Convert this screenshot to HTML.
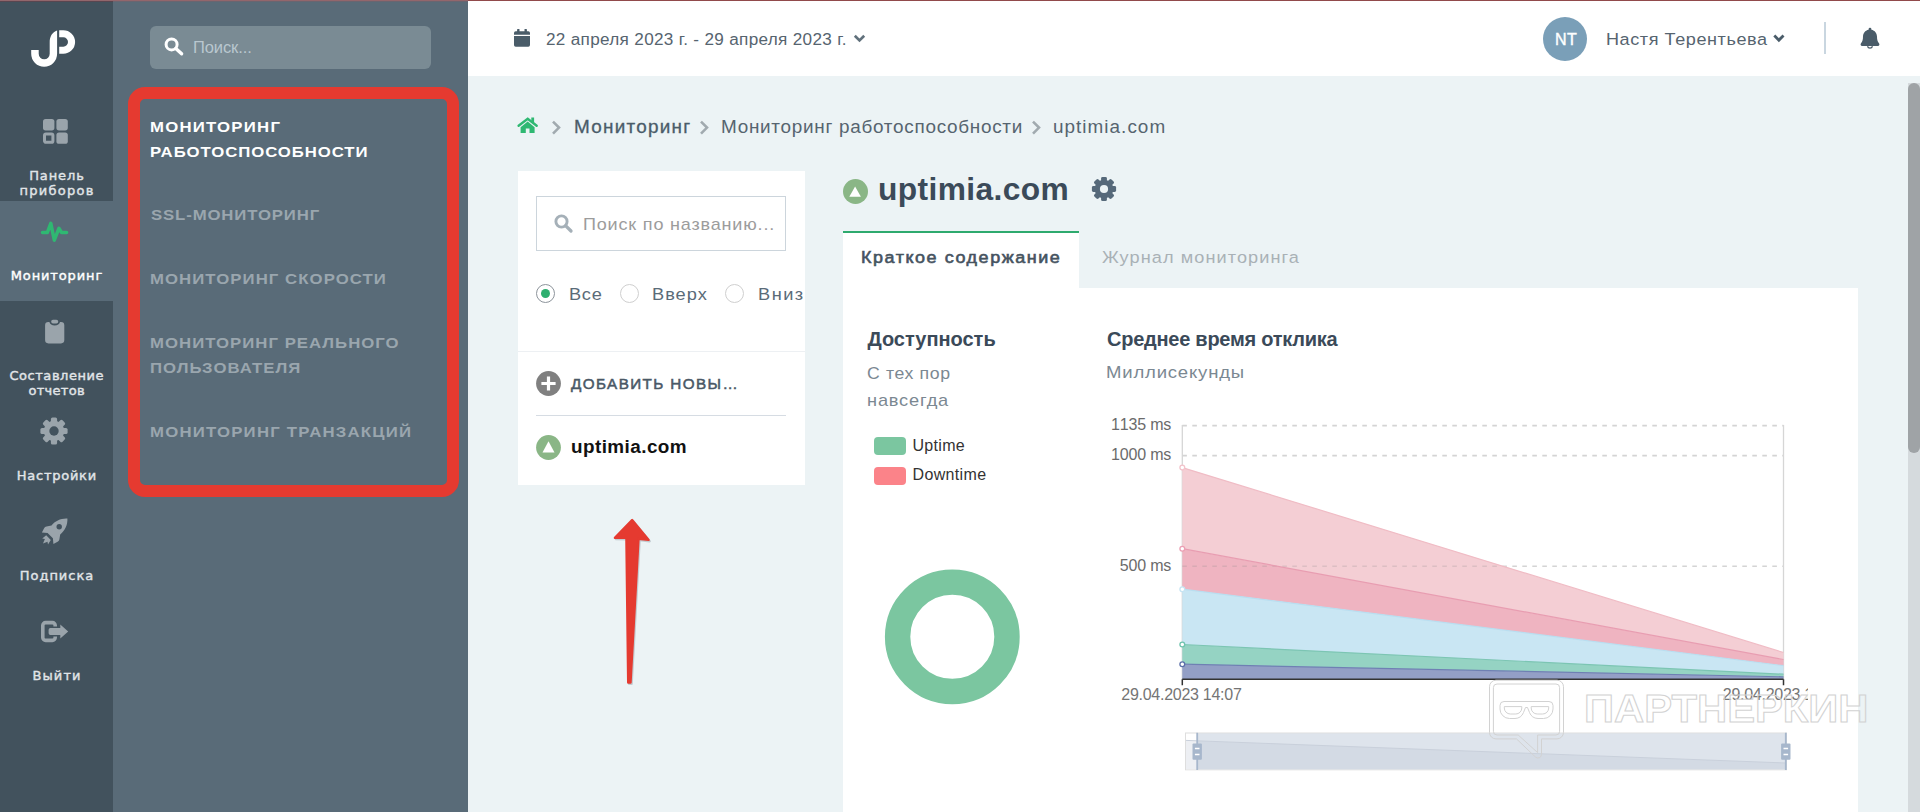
<!DOCTYPE html>
<html lang="ru">
<head>
<meta charset="utf-8">
<title>Uptimia — Мониторинг работоспособности</title>
<style>
*{box-sizing:border-box;margin:0;padding:0}
html,body{width:1920px;height:812px;overflow:hidden}
body{position:relative;background:#ecf3f5;font-family:"Liberation Sans",sans-serif;color:#56646f}
.abs{position:absolute}
.t{position:absolute;white-space:nowrap;line-height:1}
svg{position:absolute;overflow:visible}

/* ---------- primary nav ---------- */
#nav1{position:absolute;left:0;top:0;width:113px;height:812px;background:#42525d}
#nav1 .item{position:absolute;left:0;width:113px;height:100px}
#nav1 .item.active{background:#596b78}
#nav1 .lbl{position:absolute;left:0;width:113px;text-align:center;font-family:"DejaVu Sans","Liberation Sans",sans-serif;font-size:13px;line-height:13px;color:#e1e5e8;white-space:nowrap;-webkit-text-stroke:.4px currentColor}
#nav1 .item.active .lbl{color:#fff}

/* ---------- secondary nav ---------- */
#nav2{position:absolute;left:113px;top:0;width:355px;height:812px;background:#596b78}
#nav2 .search{position:absolute;left:37px;top:26px;width:281px;height:43px;border-radius:6px;background:#7a8b94}
#nav2 .menu{position:absolute;left:37px;font-size:15.5px;line-height:25px;font-weight:700;letter-spacing:.95px;color:#9aa6ae;white-space:nowrap;transform:scaleX(1.08);transform-origin:0 50%}
#nav2 .menu.on{color:#fff}
#redbox{position:absolute;left:128.3px;top:87.4px;width:330.8px;height:409.5px;border:12.8px solid #e53a30;border-radius:17px}

/* ---------- top bar ---------- */
#topbar{position:absolute;left:468px;top:0;width:1452px;height:76px;background:#fff}
#topline{position:absolute;left:0;top:0;width:1920px;height:1px;background:linear-gradient(90deg,#93666c 0,#93666c 468px,#914a4b 468px);z-index:9}
#topline2{position:absolute;left:0;top:1px;width:468px;height:1px;background:linear-gradient(90deg,#594650 0,#594650 113px,#6a6570 113px);z-index:9}

/* ---------- main ---------- */
.card{position:absolute;background:#fff}
</style>
</head>
<body>
<div id="topline"></div><div id="topline2"></div>

<!-- ================= PRIMARY NAV ================= -->
<div id="nav1">
  <!-- logo -->
  <svg style="left:28px;top:28px" width="50" height="42" viewBox="28 28 50 42">
    <path d="M31.2 49.9 H38.7 V53.8 A5.5 5.5 0 0 0 49.7 53.8 V42.4 C49.7 36.5 52.3 32.3 57.1 30.6 V53.8 A12.95 12.95 0 0 1 31.2 53.8 Z" fill="#fff"/>
    <path d="M59.2 30.2 H63.3 A11.8 11.8 0 0 1 63.3 53.8 H59.2 V46.7 H63.3 A4.7 4.7 0 0 0 63.3 37.3 H59.2 Z" fill="#fff"/>
  </svg>

  <div class="item" style="top:100px">
    <svg style="left:43px;top:19px" width="25" height="25" viewBox="0 0 25 25">
      <rect x="0" y="0" width="11.4" height="11.4" rx="2.6" fill="#9aa4ab"/>
      <rect x="13.4" y="0" width="11.4" height="11.4" rx="2.6" fill="#9aa4ab"/>
      <rect x="13.4" y="13.4" width="11.4" height="11.4" rx="2.6" fill="#9aa4ab"/>
      <rect x="1.5" y="14.9" width="8.4" height="8.4" rx="1.4" fill="none" stroke="#9aa4ab" stroke-width="3"/>
    </svg>
    <div class="lbl" style="top:69px;letter-spacing:0.9px;padding-left:0.9px">Панель</div><div class="lbl" style="top:84.2px;letter-spacing:1.26px;padding-left:1.26px">приборов</div>
  </div>

  <div class="item active" style="top:200.7px;height:100.4px">
    <svg style="left:39px;top:17.3px" width="32" height="28" viewBox="39 218 32 28">
      <path d="M42.5 232.6 H47.3 L50.8 223.4 L54.3 240.2 L58.9 228.3 L61.6 232.6 H66.6" fill="none" stroke="#2fb872" stroke-width="3.5" stroke-linecap="round" stroke-linejoin="round"/>
    </svg>
    <div class="lbl" style="top:68.3px;letter-spacing:0.87px;padding-left:0.87px">Мониторинг</div>
  </div>

  <div class="item" style="top:300px">
    <svg style="left:44px;top:18px" width="22" height="26" viewBox="44 318 22 26">
      <path d="M48.4 322 H49.4 A5.4 4.2 0 0 0 60 322 H61 A3.3 3.3 0 0 1 64.3 325.3 V340.1 A3.3 3.3 0 0 1 61 343.4 H48.4 A3.3 3.3 0 0 1 45.1 340.1 V325.3 A3.3 3.3 0 0 1 48.4 322 Z" fill="#9aa4ab"/>
      <rect x="51.2" y="319.8" width="7" height="3.8" rx="1.8" fill="#9aa4ab"/>
    </svg>
    <div class="lbl" style="top:69px;letter-spacing:0.56px;padding-left:0.56px">Составление</div><div class="lbl" style="top:84.2px;letter-spacing:0.3px;padding-left:0.3px">отчетов</div>
  </div>

  <div class="item" style="top:400px">
    <svg style="left:40px;top:17px" width="28" height="28" viewBox="-14 -14 28 28">
      <g fill="#9aa4ab">
        <circle r="10.2"/>
        <g id="tth"><rect x="-3.1" y="-13.6" width="6.2" height="6" rx="1.6"/></g>
        <use href="#tth" transform="rotate(45)"/><use href="#tth" transform="rotate(90)"/><use href="#tth" transform="rotate(135)"/>
        <use href="#tth" transform="rotate(180)"/><use href="#tth" transform="rotate(225)"/><use href="#tth" transform="rotate(270)"/><use href="#tth" transform="rotate(315)"/>
      </g>
      <circle r="4.7" fill="#42525d"/>
    </svg>
    <div class="lbl" style="top:69px;letter-spacing:0.73px;padding-left:0.73px">Настройки</div>
  </div>

  <div class="item" style="top:500px">
    <svg style="left:41px;top:18px" width="27" height="27" viewBox="41 518 27 27">
      <path d="M67.4 518.6 C61 518.2 55 521 51.5 525.6 L46.5 526.4 C45.4 526.6 44.6 527.2 44.1 528.2 L41.9 532.4 L47.6 533 L52.9 538.3 L53.4 543.9 L57.6 541.7 C58.6 541.2 59.2 540.3 59.4 539.3 L60.2 534.4 C64.8 530.9 67.8 525 67.4 518.6 Z" fill="#9aa4ab"/>
      <circle cx="59.2" cy="526.7" r="2.7" fill="#42525d"/>
      <path d="M46.2 535.2 L42.2 538.6 L44.9 539.1 L43 543.6 L47.5 541.7 L48 544.4 L50.8 540 Z" fill="#9aa4ab"/>
    </svg>
    <div class="lbl" style="top:69px;letter-spacing:0.98px;padding-left:0.98px">Подписка</div>
  </div>

  <div class="item" style="top:600px">
    <svg style="left:40px;top:19px" width="30" height="25" viewBox="40 619 30 25">
      <path d="M55.2 626.5 V625.4 A2.8 2.8 0 0 0 52.4 622.6 H45.6 A2.8 2.8 0 0 0 42.8 625.4 V637.6 A2.8 2.8 0 0 0 45.6 640.4 H52.4 A2.8 2.8 0 0 0 55.2 637.6 V636.4" fill="none" stroke="#9aa4ab" stroke-width="3.6"/>
      <path d="M50.3 628 H60.3 V624.4 L68.2 631.5 L60.3 638.4 V635 H50.3 A2 2 0 0 1 48.6 633.2 V629.8 A2 2 0 0 1 50.3 628 Z" fill="#9aa4ab"/>
    </svg>
    <div class="lbl" style="top:69px;letter-spacing:1.09px;padding-left:1.09px">Выйти</div>
  </div>
</div>

<!-- ================= SECONDARY NAV ================= -->
<div id="nav2">
  <div class="search">
    <svg style="left:14.4px;top:10.7px" width="20" height="19" viewBox="0 0 20 19">
      <circle cx="7.6" cy="7.4" r="5.5" fill="none" stroke="#fff" stroke-width="3"/>
      <path d="M11.8 11.4 L17.6 16.8" stroke="#fff" stroke-width="3.4" stroke-linecap="round"/>
    </svg>
    <div class="t" style="left:43px;top:12.5px;font-size:16.5px;color:#b9c7cf;letter-spacing:-.1px">Поиск...</div>
  </div>
  <div class="menu on" style="top:114.2px"><span style="letter-spacing:1.15px">МОНИТОРИНГ</span><br><span style="letter-spacing:.86px">РАБОТОСПОСОБНОСТИ</span></div>
  <div class="menu" style="top:202.4px;left:37.6px;letter-spacing:.81px">SSL-МОНИТОРИНГ</div>
  <div class="menu" style="top:265.8px;letter-spacing:.99px">МОНИТОРИНГ СКОРОСТИ</div>
  <div class="menu" style="top:330.2px">МОНИТОРИНГ РЕАЛЬНОГО<br>ПОЛЬЗОВАТЕЛЯ</div>
  <div class="menu" style="top:418.9px;letter-spacing:1.13px">МОНИТОРИНГ ТРАНЗАКЦИЙ</div>
</div>
<div id="redbox"></div>

<!-- ================= TOP BAR ================= -->
<div id="topbar">
  <!-- calendar -->
  <svg style="left:46px;top:29px" width="16" height="18" viewBox="0 0 16 18">
    <path d="M0 6.9 H16 V16.1 A1.7 1.7 0 0 1 14.3 17.8 H1.7 A1.7 1.7 0 0 1 0 16.1 Z" fill="#4a5c69"/>
    <path d="M1.7 2.2 H14.3 A1.7 1.7 0 0 1 16 3.9 V5.8 H0 V3.9 A1.7 1.7 0 0 1 1.7 2.2 Z" fill="#4a5c69"/>
    <rect x="3.1" y="0" width="2.4" height="4" rx=".6" fill="#4a5c69"/>
    <rect x="10.5" y="0" width="2.4" height="4" rx=".6" fill="#4a5c69"/>
  </svg>
  <div class="t" id="date" style="left:77.7px;top:31.9px;font-size:16px;color:#56646f;letter-spacing:0.30px;transform:scaleX(1.07);transform-origin:0 50%">22 апреля 2023 г. - 29 апреля 2023 г.</div>
  <svg style="left:385px;top:34px" width="13" height="9" viewBox="0 0 13 9"><path d="M1.8 1.8 L6.5 6.4 L11.2 1.8" fill="none" stroke="#61717c" stroke-width="2.7" stroke-linecap="butt" stroke-linejoin="miter"/></svg>

  <!-- avatar -->
  <div class="abs" style="left:1075px;top:17px;width:44px;height:44px;border-radius:50%;background:#7a9fb8"></div>
  <div class="t" id="nt" style="left:1076px;top:31.6px;width:44px;text-align:center;font-size:16px;color:#fff;font-weight:400;letter-spacing:.3px;-webkit-text-stroke:.4px #fff">NT</div>
  <div class="t" id="uname" style="left:1138.3px;top:31.0px;font-size:17.2px;color:#56646f;letter-spacing:0.55px;transform:scaleX(1.05);transform-origin:0 50%">Настя Терентьева</div>
  <svg style="left:1305px;top:33.6px" width="12" height="9" viewBox="0 0 12 9"><path d="M1.3 1.6 L5.9 6.2 L10.5 1.6" fill="none" stroke="#4a5c69" stroke-width="2.8"/></svg>
  <div class="abs" style="left:1356px;top:22px;width:2px;height:32px;background:#c9d6e0"></div>
  <!-- bell -->
  <svg style="left:1392px;top:27px" width="20" height="23" viewBox="0 0 20 23">
    <path d="M10 .8 A1.4 1.4 0 0 1 11.4 2.2 V2.7 C14.9 3.4 17 6.2 17 9.6 C17 13 17.6 14.7 19 16.2 C19.9 17.3 19.3 18.9 17.9 18.9 H2.1 C.7 18.9 .1 17.3 1 16.2 C2.4 14.7 3 13 3 9.6 C3 6.2 5.1 3.4 8.6 2.7 V2.2 A1.4 1.4 0 0 1 10 .8 Z" fill="#4a5c69"/>
    <path d="M7.5 19.3 A2.6 2.5 0 0 0 12.5 19.3" fill="none" stroke="#4a5c69" stroke-width="1.3"/>
  </svg>
</div>

<!-- ================= MAIN ================= -->
<div id="main">
  <!-- breadcrumbs -->
  <svg style="left:517.1px;top:117.4px" width="21" height="17" viewBox="0 0 21 17">
    <path d="M10.7 4.6 L17.6 10.2 V16.1 H12.5 V11.5 H8.8 V16.1 H3.6 V10.2 Z" fill="#2fb872"/>
    <path d="M1.6 8.8 L10.7 1.7 L19.7 8.8" fill="none" stroke="#2fb872" stroke-width="2.4" stroke-linecap="round" stroke-linejoin="miter"/>
    <rect x="14.3" y=".5" width="2.8" height="5.4" fill="#2fb872"/>
  </svg>
  <svg style="left:551px;top:120px" width="11" height="15" viewBox="0 0 11 15"><path d="M2 1.6 L8 7.6 L2 13.6" fill="none" stroke="#a1aaaf" stroke-width="2.6"/></svg>
  <div class="t" id="bc1" style="left:573.8px;top:118.6px;font-size:17.5px;color:#4a5c69;-webkit-text-stroke:.28px #4a5c69;letter-spacing:1.16px;transform:scaleX(1.08);transform-origin:0 50%">Мониторинг</div>
  <svg style="left:698.5px;top:120px" width="11" height="15" viewBox="0 0 11 15"><path d="M2 1.6 L8 7.6 L2 13.6" fill="none" stroke="#a1aaaf" stroke-width="2.6"/></svg>
  <div class="t" id="bc2" style="left:721.0px;top:118.6px;font-size:17.5px;color:#56646f;letter-spacing:0.67px;transform:scaleX(1.08);transform-origin:0 50%">Мониторинг работоспособности</div>
  <svg style="left:1030.5px;top:120px" width="11" height="15" viewBox="0 0 11 15"><path d="M2 1.6 L8 7.6 L2 13.6" fill="none" stroke="#a1aaaf" stroke-width="2.6"/></svg>
  <div class="t" id="bc3" style="left:1053.0px;top:118.6px;font-size:17.5px;color:#56646f;letter-spacing:0.95px;transform:scaleX(1.08);transform-origin:0 50%">uptimia.com</div>

  <!-- left list card -->
  <div class="card" id="lcard" style="left:518px;top:171px;width:287px;height:314px;overflow:hidden">
    <div class="abs" style="left:18px;top:25px;width:250px;height:55px;border:1px solid #ccd5dc"></div>
    <svg style="left:35.5px;top:43px" width="19" height="19" viewBox="0 0 19 19">
      <circle cx="7.5" cy="7.5" r="5.6" fill="none" stroke="#a5b0b8" stroke-width="2.9"/>
      <path d="M11.8 11.8 L17 17" stroke="#a5b0b8" stroke-width="3.3" stroke-linecap="round"/>
    </svg>
    <div class="t" id="ph" style="left:65.0px;top:44.6px;font-size:17px;color:#9c9c9c;letter-spacing:0.77px;transform:scaleX(1.06);transform-origin:0 50%">Поиск по названию...</div>

    <div class="abs" style="left:18px;top:113px;width:19px;height:19px;border-radius:50%;border:1.3px solid #8d949b"></div>
    <div class="abs" style="left:23px;top:118px;width:9px;height:9px;border-radius:50%;background:#2eaf6f"></div>
    <div class="t" id="r1" style="left:51.0px;top:114.6px;font-size:17px;color:#5a6b78;letter-spacing:0.68px;transform:scaleX(1.07);transform-origin:0 50%">Все</div>
    <div class="abs" style="left:102px;top:113px;width:19px;height:19px;border-radius:50%;border:1.3px solid #cfcfcf"></div>
    <div class="t" id="r2" style="left:134.4px;top:114.6px;font-size:17px;color:#5a6b78;letter-spacing:0.95px;transform:scaleX(1.07);transform-origin:0 50%">Вверх</div>
    <div class="abs" style="left:207px;top:113px;width:19px;height:19px;border-radius:50%;border:1.3px solid #cfcfcf"></div>
    <div class="t" id="r3" style="left:240.3px;top:114.6px;font-size:17px;color:#5a6b78;letter-spacing:1.40px;transform:scaleX(1.07);transform-origin:0 50%">Вниз</div>

    <div class="abs" style="left:0;top:180px;width:287px;height:1px;background:#edf0f3"></div>

    <svg style="left:18px;top:200px" width="25" height="25" viewBox="0 0 25 25">
      <circle cx="12.5" cy="12.5" r="12.4" fill="#808080"/>
      <path d="M12.5 5.4 V19.6 M5.4 12.5 H19.6" stroke="#fff" stroke-width="3.2"/>
    </svg>
    <div class="t" id="add" style="left:52.6px;top:205.9px;font-size:14.5px;color:#4a5866;-webkit-text-stroke:.5px #4a5866;letter-spacing:1.35px;transform:scaleX(1.05);transform-origin:0 50%">ДОБАВИТЬ НОВЫ…</div>

    <div class="abs" style="left:18px;top:244px;width:250px;height:1px;background:#d6dce3"></div>

    <svg style="left:18px;top:264px" width="25" height="25" viewBox="0 0 25 25">
      <circle cx="12.5" cy="12.5" r="12.4" fill="#8ab686"/>
      <path d="M12.5 6.2 L18.5 17.6 H6.5 Z" fill="#fff"/>
    </svg>
    <div class="t" id="li1" style="left:53.1px;top:266.6px;font-size:18px;color:#111;font-weight:700;letter-spacing:0.41px;transform:scaleX(1.05);transform-origin:0 50%">uptimia.com</div>
  </div>

  <!-- title -->
  <svg style="left:843px;top:179px" width="25" height="25" viewBox="0 0 25 25">
    <circle cx="12.5" cy="12.5" r="12.5" fill="#8ab686"/>
    <path d="M12.1 7.4 L17.9 17.8 H6.3 Z" fill="#fff"/>
  </svg>
  <div class="t" id="title" style="left:877.5px;top:173.8px;font-size:30.5px;color:#3b4a59;font-weight:700;letter-spacing:0.38px;transform:scaleX(1.04);transform-origin:0 50%">uptimia.com</div>
  <svg style="left:1091px;top:175.5px" width="26" height="26" viewBox="-13 -13 26 26">
    <g fill="#56697a">
      <circle r="9.3"/>
      <g id="tt2"><rect x="-2.9" y="-12.1" width="5.8" height="5.4" rx="1.4"/></g>
      <use href="#tt2" transform="rotate(45)"/><use href="#tt2" transform="rotate(90)"/><use href="#tt2" transform="rotate(135)"/>
      <use href="#tt2" transform="rotate(180)"/><use href="#tt2" transform="rotate(225)"/><use href="#tt2" transform="rotate(270)"/><use href="#tt2" transform="rotate(315)"/>
    </g>
    <circle r="4.1" fill="#ecf3f5"/>
  </svg>

  <!-- tabs -->
  <div class="abs" style="left:843px;top:230.5px;width:236px;height:58px;background:#fff;border-top:2.5px solid #2eaa6e"></div>
  <div class="t" id="tab1" style="left:861.0px;top:250.0px;font-size:16.8px;color:#46535f;font-weight:400;-webkit-text-stroke:.6px #46535f;letter-spacing:1.45px;transform:scaleX(1.07);transform-origin:0 50%">Краткое содержание</div>
  <div class="t" id="tab2" style="left:1102.2px;top:249.5px;font-size:16.8px;color:#a9b1b6;letter-spacing:1.00px;transform:scaleX(1.08);transform-origin:0 50%">Журнал мониторинга</div>

  <!-- content card -->
  <div class="card" id="ccard" style="left:843px;top:288px;width:1015px;height:524px">
  </div>

  <div class="t" id="h1" style="left:867.4px;top:329.1px;font-size:20px;color:#3b4a59;font-weight:700">Доступность</div>
  <div class="t" id="s1" style="left:867.4px;top:364.6px;font-size:17px;color:#7b8892;letter-spacing:0.61px;transform:scaleX(1.04);transform-origin:0 50%">С тех пор</div>
  <div class="t" id="s2" style="left:867.3px;top:391.6px;font-size:17px;color:#7b8892;letter-spacing:0.78px;transform:scaleX(1.07);transform-origin:0 50%">навсегда</div>
  <div class="abs" style="left:874px;top:437px;width:31.6px;height:17.6px;border-radius:4px;background:#7bc6a0"></div>
  <div class="t" id="lg1" style="left:912.5px;top:437.6px;font-size:16px;color:#333;letter-spacing:0.3px">Uptime</div>
  <div class="abs" style="left:874px;top:467.2px;width:31.6px;height:17.6px;border-radius:4px;background:#fb8389"></div>
  <div class="t" id="lg2" style="left:912.5px;top:467.3px;font-size:16px;color:#333;letter-spacing:0.35px">Downtime</div>
  <svg style="left:880px;top:565px" width="145" height="145" viewBox="880 565 145 145">
    <circle cx="952.3" cy="636.8" r="54.7" fill="none" stroke="#7bc6a0" stroke-width="25.4"/>
  </svg>

  <div class="t" id="h2" style="left:1107px;top:329.1px;font-size:20px;color:#3b4a59;font-weight:700;letter-spacing:-0.25px">Среднее время отклика</div>
  <div class="t" id="s3" style="left:1106.1px;top:364.3px;font-size:17px;color:#7b8892;letter-spacing:0.74px;transform:scaleX(1.09);transform-origin:0 50%">Миллисекунды</div>

  <!-- chart -->
  <svg id="chart" style="left:1100px;top:400px" width="720" height="390" viewBox="1100 400 720 390" font-family="'Liberation Sans',sans-serif">
    <defs><clipPath id="cclip"><rect x="1100" y="400" width="708" height="390"/></clipPath></defs>
    <g clip-path="url(#cclip)">
    <g stroke="#d4d4d4" stroke-width="1.6" stroke-dasharray="4.6 5.4" fill="none">
      <path d="M1182.3 425.6 H1783.5"/><path d="M1182.3 455.6 H1783.5"/><path d="M1182.3 566.2 H1783.5"/>
    </g>
    <path d="M1182.3 425 V679.2 M1783.5 425 V679.2" stroke="#d6d6d6" stroke-width="1.3" fill="none"/>
    <path d="M1182.3 467.6 L1783.5 652.5 L1783.5 659.5 L1182.3 548.7 Z" fill="#f4ced4"/>
    <path d="M1182.3 548.7 L1783.5 659.5 L1783.5 665.7 L1182.3 589.2 Z" fill="#efb4c1"/>
    <path d="M1182.3 589.2 L1783.5 665.7 L1783.5 674.2 L1182.3 644.5 Z" fill="#c9e6f3"/>
    <path d="M1182.3 644.5 L1783.5 674.2 L1783.5 676.8 L1182.3 664.2 Z" fill="#95d3c3"/>
    <path d="M1182.3 664.2 L1783.5 676.8 L1783.5 679.2 L1182.3 679.2 Z" fill="#939fc6"/>
    <path d="M1182.3 566.2 H1502.5" stroke="#8a8a8a" stroke-opacity=".22" stroke-width="1.6" stroke-dasharray="4.6 5.4" fill="none"/>
    <g fill="none" stroke-width="1.2">
      <path d="M1182.3 467.6 L1783.5 652.5" stroke="#f0bcc5"/>
      <path d="M1182.3 548.7 L1783.5 659.5" stroke="#e89db1"/>
      <path d="M1182.3 589.2 L1783.5 665.7" stroke="#b9def0"/>
      <path d="M1182.3 644.5 L1783.5 674.2" stroke="#7cc5b3"/>
      <path d="M1182.3 664.2 L1783.5 676.8" stroke="#6f80b3"/>
    </g>
    <g fill="#fff" stroke-width="1.3">
      <circle cx="1182.3" cy="467.6" r="2.4" stroke="#f3c3cb"/>
      <circle cx="1182.3" cy="548.7" r="2.4" stroke="#ec9fb3"/>
      <circle cx="1182.3" cy="589.2" r="2.4" stroke="#c6e4f3"/>
      <circle cx="1182.3" cy="644.5" r="2.4" stroke="#6fc3ae"/>
      <circle cx="1182.3" cy="664.2" r="2.4" stroke="#5b6ea8"/>
    </g>
    <path d="M1182.3 679.2 H1783.5 M1182.3 679.2 V685.2 M1783.5 679.2 V685.2" stroke="#333" stroke-width="1.5" fill="none"/>
    <g font-size="16" fill="#6b6b6b" text-anchor="end" style="font-kerning:none" letter-spacing="-.18">
      <text x="1171.2" y="429.6">1135 ms</text>
      <text x="1171.2" y="459.6">1000 ms</text>
      <text x="1171.2" y="570.6">500 ms</text>
    </g>
    <g font-size="16" fill="#757575">
      <text x="1121.3" y="700.2" letter-spacing="-.27">29.04.2023 14:07</text>
      <text x="1722.8" y="700.2" letter-spacing="-.27">29.04.2023 14:08</text>
    </g>
    <!-- data zoom slider -->
    <rect x="1185.5" y="733" width="601" height="36.8" fill="#fff" stroke="#dedede" stroke-width="1"/>
    <path d="M1186 740.4 L1786 763 V769.3 H1186 Z" fill="#edeff3"/>
    <rect x="1197.2" y="733.4" width="588.6" height="36" fill="#a7b7cc" fill-opacity=".38"/>
    <path d="M1186 740.4 L1786 763" stroke="#c9d0db" stroke-width="1" fill="none"/>
    <path d="M1197.2 732.8 V770 M1785.8 732.8 V770" stroke="#a7b7cc" stroke-width="1.8"/>
    <rect x="1192.5" y="743.4" width="9.4" height="16.4" rx="1" fill="#a7b7cc"/>
    <rect x="1781.1" y="743.4" width="9.4" height="16.4" rx="1" fill="#a7b7cc"/>
    <path d="M1194.9 748.5 H1199.5 M1194.9 754.6 H1199.5 M1783.5 748.5 H1788.1 M1783.5 754.6 H1788.1" stroke="#fff" stroke-width="1.5"/>
    </g>
  </svg>

  <!-- watermark -->
  <svg id="wm" style="left:1485px;top:675px" width="390" height="90" viewBox="1485 675 390 90" font-family="'Liberation Sans',sans-serif">
    <g fill="none" stroke="#d2d2d2" stroke-width="1">
      <path d="M1496 680.2 H1557 A6.5 6.5 0 0 1 1563.5 686.7 V732.4 A6.5 6.5 0 0 1 1557 738.9 H1541.5 V754.5 A3.6 3.6 0 0 1 1535.4 757 L1516.5 738.9 H1496 A6.5 6.5 0 0 1 1489.5 732.4 V686.7 A6.5 6.5 0 0 1 1496 680.2 Z"/>
      <path d="M1497 684 H1556 A3.6 3.6 0 0 1 1559.6 687.6 V731.4 A3.6 3.6 0 0 1 1556 735 H1537.6 V752.6 L1518.2 735 H1497 A3.6 3.6 0 0 1 1493.4 731.4 V687.6 A3.6 3.6 0 0 1 1497 684 Z"/>
      <path d="M1504 701.5 H1549 A4 4 0 0 1 1553 705.5 V709 A9.5 9.5 0 0 1 1543.5 718.5 H1538 A9.5 9.5 0 0 1 1529.5 712.5 L1527.5 707.5 H1525.5 L1523.5 712.5 A9.5 9.5 0 0 1 1515 718.5 H1509.5 A9.5 9.5 0 0 1 1500 709 V705.5 A4 4 0 0 1 1504 701.5 Z"/>
      <path d="M1504.3 706.6 H1521.8 V708 A6 6 0 0 1 1515.8 714 H1510.3 A6 6 0 0 1 1504.3 708 Z"/>
      <path d="M1531.2 706.6 H1548.7 V708 A6 6 0 0 1 1542.7 714 H1537.2 A6 6 0 0 1 1531.2 708 Z"/>
    </g>
    <text x="1584" y="722" font-size="38" font-weight="700" fill="none" stroke="#d2d2d2" stroke-width="1" textLength="284.5" lengthAdjust="spacingAndGlyphs">ПАРТНЕРКИН</text>
  </svg>
</div>

<!-- red arrow annotation -->
<svg style="left:605px;top:512px" width="55" height="180" viewBox="605 512 55 180">
  <path id="arw" d="M632.1 520 L648.6 539.9 L638.5 538.7 L630.5 682.6 H628.2 L626.4 537.9 L614.9 537.8 Z" fill="#9aa5ad" stroke="#9aa5ad" stroke-width="2.4" stroke-linejoin="round" opacity=".5" transform="translate(1.1 1.3)"/>
  <path d="M632.1 520 L648.6 539.9 L638.5 538.7 L630.5 682.6 H628.2 L626.4 537.9 L614.9 537.8 Z" fill="#e53a30" stroke="#e53a30" stroke-width="2.4" stroke-linejoin="round"/>
</svg>

<!-- page scrollbar -->
<div class="abs" style="left:1908px;top:83px;width:12px;height:729px;background:#d5dadd"></div>
<div class="abs" style="left:1908px;top:83px;width:12px;height:370px;background:#9fa3a6;border-radius:6px"></div>


</body>
</html>
